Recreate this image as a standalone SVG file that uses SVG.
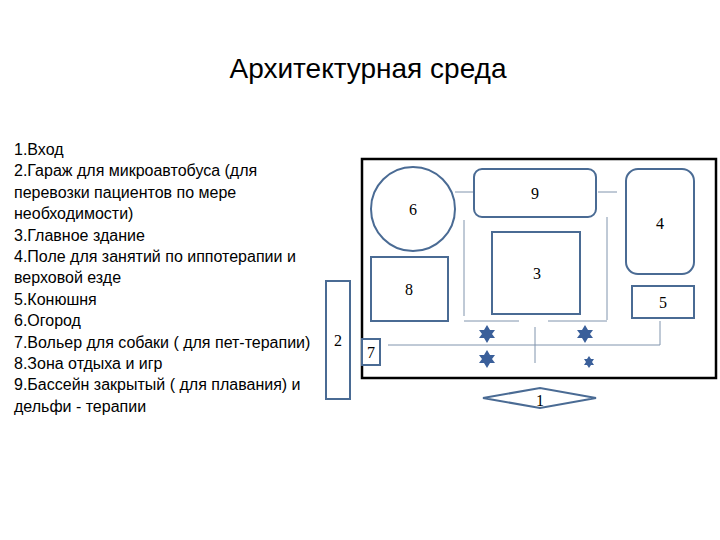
<svg xmlns="http://www.w3.org/2000/svg" width="720" height="540" viewBox="0 0 720 540">
<style>
.t{font-family:"Liberation Sans",Arial,sans-serif;fill:#000}
.l{font-size:16px}
.n{font-family:"Liberation Serif","Times New Roman",serif;font-size:16px;text-anchor:middle}
.s{fill:#fff;stroke:#4a6b94;stroke-width:2}
.c{stroke:#8094ad;stroke-width:1;fill:none}
.st{fill:#3a5f9a}
</style>
<rect width="720" height="540" fill="#fff"/>
<text class="t" x="368" y="78" font-size="28" text-anchor="middle">Архитектурная среда</text>
<g class="t l">
<text x="14" y="155">1.Вход</text>
<text x="14" y="176.4">2.Гараж для микроавтобуса (для</text>
<text x="14" y="197.8">перевозки пациентов по мере</text>
<text x="14" y="219.2">необходимости)</text>
<text x="14" y="240.6">3.Главное здание</text>
<text x="14" y="262">4.Поле для занятий по иппотерапии и</text>
<text x="14" y="283.4">верховой езде</text>
<text x="14" y="304.8">5.Конюшня</text>
<text x="14" y="326.2">6.Огород</text>
<text x="14" y="347.6">7.Вольер для собаки ( для пет-терапии)</text>
<text x="14" y="369">8.Зона отдыха и игр</text>
<text x="14" y="390.4">9.Бассейн закрытый ( для плавания) и</text>
<text x="14" y="411.8">дельфи - терапии</text>
</g>
<rect x="362" y="159" width="354" height="219" fill="none" stroke="#000" stroke-width="2.5"/>
<g id="connectors">
<path class="c" d="M455 192H473M598 192H617M464 220V316M464 321H519M548 321H607M607 217V320M535 327V363M388 345H660M660 321V345"/>
</g>
<g id="n6"><circle class="s" cx="413" cy="209" r="42"/><text class="n" x="413" y="215">6</text></g>
<g id="n9"><rect class="s" x="474" y="169" width="122" height="48" rx="8"/><text class="n" x="535" y="199">9</text></g>
<g id="n4"><rect class="s" x="626" y="169" width="68" height="105" rx="12"/><text class="n" x="660" y="229">4</text></g>
<g id="n3"><rect class="s" x="492" y="232" width="88" height="82"/><text class="n" x="537" y="279">3</text></g>
<g id="n8"><rect class="s" x="371" y="257" width="77" height="64"/><text class="n" x="409" y="295">8</text></g>
<g id="n5"><rect class="s" x="632" y="286" width="62" height="32"/><text class="n" x="663" y="308">5</text></g>
<g id="n2"><rect class="s" x="326" y="281" width="24" height="118"/><text class="n" x="338" y="346">2</text></g>
<g id="n7"><rect class="s" x="362" y="339" width="18" height="26"/><text class="n" x="371" y="358">7</text></g>
<g id="n1"><polygon class="s" points="483,398 540,388 596,398 540,408"/><text class="n" x="540" y="406">1</text></g>
<g id="stars">
<polygon class="st" points="487,325 490,330 495,330 492,334 495,338 490,338 487,343 484,338 479,338 482,334 479,330 484,330"/>
<polygon class="st" points="585,325 588,330 593,330 590,334 593,338 588,338 585,343 582,338 577,338 580,334 577,330 582,330"/>
<polygon class="st" points="487,350 490,355 495,355 492,359 495,363 490,363 487,368 484,363 479,363 482,359 479,355 484,355"/>
<polygon class="st" points="589,356 591,359 594,359 592,362 594,365 591,365 589,368 587,365 584,365 586,362 584,359 587,359"/>
</g>
</svg>
